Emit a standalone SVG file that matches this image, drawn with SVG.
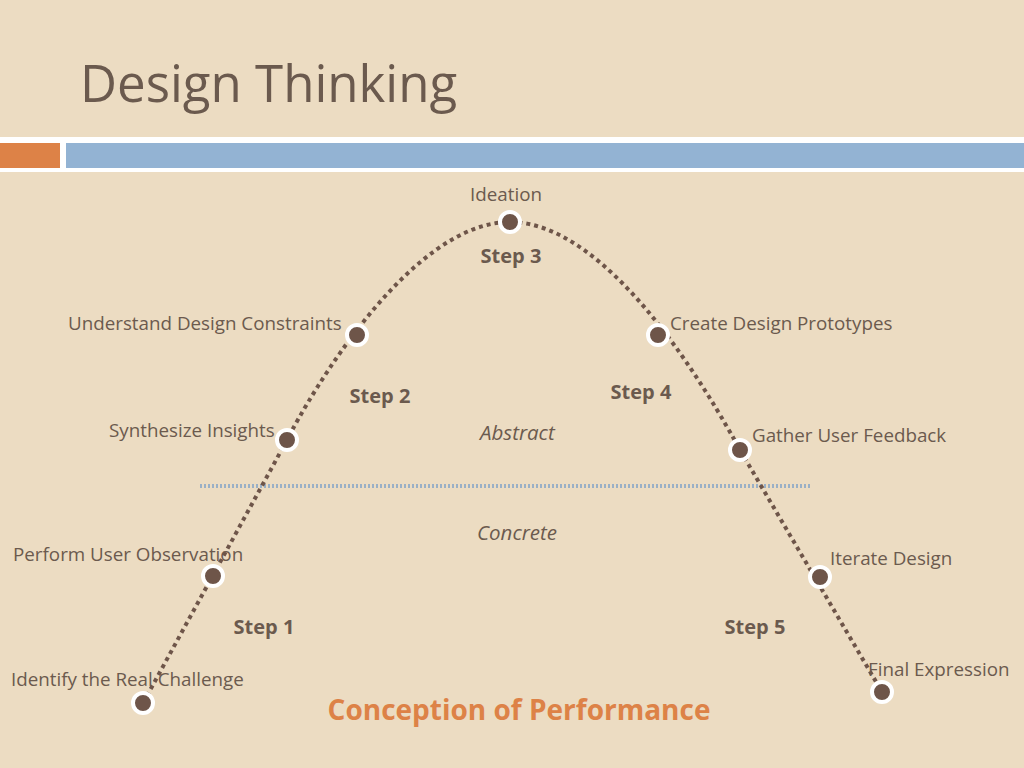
<svg xmlns="http://www.w3.org/2000/svg" width="1024" height="768" viewBox="0 0 1024 768">
<style>
.t{font-family:"Open Sans","Liberation Sans",sans-serif;fill:#6b5a4e;font-size:18.8px}
.s{font-family:"Open Sans","Liberation Sans",sans-serif;fill:#6b5a4e;font-size:20px;font-weight:bold;text-anchor:middle}
.d{fill:#6e5549;stroke:#fff;stroke-width:4}
</style>
<rect width="1024" height="768" fill="#ecdcc2"/>
<text x="80" y="102" style="font-family:'Open Sans','Liberation Sans',sans-serif;font-size:51px;fill:#6b5a4e">Design Thinking</text>
<rect x="0" y="137" width="1024" height="35" fill="#fff"/>
<rect x="0" y="143" width="60" height="25" fill="#dd8247"/>
<rect x="66" y="143" width="958" height="25" fill="#93b3d3"/>
<g id="connectors">
<line x1="200" y1="486" x2="810" y2="486" stroke="#9ab0c6" stroke-width="4" stroke-dasharray="2 2"/>
<path d="M143,703 L287,440 C310,395 410,222 510,222 C610,222 710,395 740,450 L882,692" fill="none" stroke="#6e5549" stroke-width="4" stroke-dasharray="4 4"/>
</g>
<g id="nodes">
<circle class="d" cx="143" cy="703" r="10"/>
<circle class="d" cx="213" cy="576" r="10"/>
<circle class="d" cx="287" cy="440" r="10"/>
<circle class="d" cx="357" cy="335" r="10"/>
<circle class="d" cx="510" cy="222" r="10"/>
<circle class="d" cx="658" cy="335" r="10"/>
<circle class="d" cx="740" cy="450" r="10"/>
<circle class="d" cx="820" cy="577" r="10"/>
<circle class="d" cx="882" cy="692" r="10"/>
</g>
<g id="labels">
<text class="t" x="470" y="201">Ideation</text>
<text class="t" x="68" y="330">Understand Design Constraints</text>
<text class="t" x="670" y="330">Create Design Prototypes</text>
<text class="t" x="109" y="437">Synthesize Insights</text>
<text class="t" x="752" y="442">Gather User Feedback</text>
<text class="t" x="13" y="561">Perform User Observation</text>
<text class="t" x="830" y="565">Iterate Design</text>
<text class="t" x="11" y="686">Identify the Real Challenge</text>
<text class="t" x="868" y="676">Final Expression</text>
<text class="t" x="480" y="440" style="font-style:italic;font-size:20.5px">Abstract</text>
<text class="t" x="477" y="540" style="font-size:20.5px;font-style:italic">Concrete</text>
<text class="s" x="511" y="263">Step 3</text>
<text class="s" x="380" y="403">Step 2</text>
<text class="s" x="641" y="399">Step 4</text>
<text class="s" x="264" y="634">Step 1</text>
<text class="s" x="755" y="634">Step 5</text>
<text x="519" y="720" style="font-family:'Open Sans','Liberation Sans',sans-serif;font-size:28px;font-weight:bold;fill:#dd8247;text-anchor:middle">Conception of Performance</text>
</g>
</svg>
